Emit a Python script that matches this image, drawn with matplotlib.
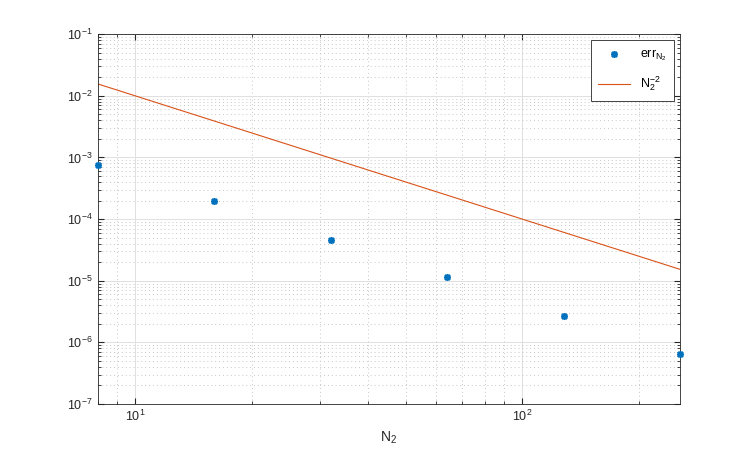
import numpy as np
import matplotlib
matplotlib.use('Agg')
import matplotlib.pyplot as plt
from matplotlib.ticker import NullFormatter

# data
N2 = [8, 16, 32, 64, 128, 256]
err = [7.5e-4, 1.96e-4, 4.55e-5, 1.15e-5, 2.67e-6, 6.5e-7]
N_ref = np.array([8, 256])
ref = N_ref ** -2.0
xticks = [10, 100]
yticks = [1e-7, 1e-6, 1e-5, 1e-4, 1e-3, 1e-2, 1e-1]

plt.rcParams['font.family'] = ['Liberation Sans', 'DejaVu Sans']
plt.rcParams['mathtext.default'] = 'regular'
plt.rcParams['font.size'] = 9

edge = (0.15, 0.15, 0.15)

fig = plt.figure(figsize=(7.5, 4.55), dpi=100)
ax = fig.add_axes([0.13, 0.112, 0.777, 0.813])

# matlab style asterisk marker
ax.loglog(N2, err, marker=(8, 2, 0), color='#0072BD', markersize=5, mew=1.2,
          linestyle='none', label=r'$err_{N_2}$', clip_on=False, zorder=5)
ax.loglog(N_ref, ref, '-', color='#D95319', linewidth=0.8, label=r'$N_2^{-2}$')

ax.set_xticks(xticks)
ax.set_yticks(yticks)
ax.set_xlim(8, 256)
ax.set_ylim(1e-7, 1e-1)
ax.set_xlabel(r'$N_2$', fontsize=10, color=edge)
ax.xaxis.set_minor_formatter(NullFormatter())
ax.yaxis.set_minor_formatter(NullFormatter())

ax.grid(True, which='major', color=(0.88, 0.88, 0.88), linewidth=0.7, linestyle='-')
ax.grid(True, which='minor', color=(0.78, 0.78, 0.78), linewidth=0.7,
        linestyle=(0, (1, 3)))
ax.set_axisbelow(True)
ax.tick_params(which='both', direction='in', top=True, right=True, colors=edge,
               labelcolor=edge)
ax.tick_params(which='major', length=4)
ax.tick_params(which='minor', length=2)
for s in ax.spines.values():
    s.set_color(edge)
    s.set_linewidth(0.6)

leg = ax.legend(loc='upper right', fancybox=False, framealpha=1, edgecolor=edge,
                fontsize=9, handlelength=2.5, borderpad=0.6, labelspacing=0.9)
leg.get_frame().set_linewidth(0.6)

fig.savefig('out.png', dpi=100)
